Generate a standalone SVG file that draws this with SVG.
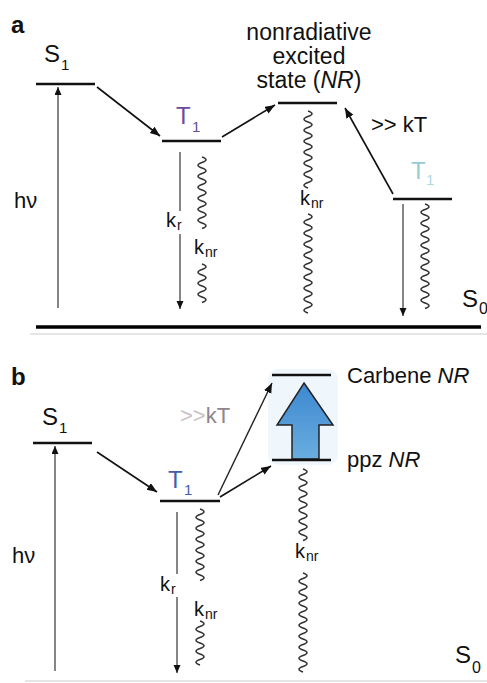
<svg xmlns="http://www.w3.org/2000/svg" width="487" height="683" viewBox="0 0 487 683">
<style>
text{font-family:"Liberation Sans",Arial,sans-serif;fill:#111}
.lvl{stroke:#111;stroke-width:2.6;fill:none}
.gnd{stroke:#000;stroke-width:3.6;fill:none}
.arr{stroke:#111;stroke-width:1.6;fill:none}
.thin{stroke:#222;stroke-width:1.1;fill:none}
.wavy{stroke:#333;stroke-width:1.5;fill:none}
.frame{stroke:#ddd;stroke-width:1.5;fill:none}
.big{font-size:24px}
.sub{font-size:15px}
.lab{font-size:22px}
.k{font-size:20px}
.ks{font-size:14px}
.panel{font-size:24px;font-weight:bold}
</style>
<defs>
<marker id="ah" markerUnits="userSpaceOnUse" markerWidth="12" markerHeight="10" refX="10" refY="4" orient="auto">
<path d="M0,0 L10,4 L0,8 z" fill="#111"/>
</marker>
<marker id="ahs" markerUnits="userSpaceOnUse" markerWidth="10" markerHeight="8" refX="8" refY="3.5" orient="auto">
<path d="M0,0 L8,3.5 L0,7 z" fill="#111"/>
</marker>
<linearGradient id="blue" x1="0" y1="0" x2="0" y2="1">
<stop offset="0" stop-color="#3c88d0"/>
<stop offset="1" stop-color="#6aaedf"/>
</linearGradient>
</defs>

<g id="frames">
<line class="frame" x1="30" y1="334" x2="487" y2="334"/>
<line class="frame" x1="25" y1="681" x2="487" y2="681"/>
</g>

<!-- Panel a -->
<g id="label-a"><text class="panel" x="11" y="33">a</text></g>
<g id="a-S1">
<line class="lvl" x1="36" y1="84" x2="95" y2="84"/>
<text class="big" x="44" y="62">S</text><text class="sub" x="61" y="70">1</text>
</g>
<g id="a-hv"><text class="lab" x="14" y="208">hν</text></g>
<g id="a-T1">
<line class="lvl" x1="162" y1="141" x2="221" y2="141"/>
<text class="big" x="176" y="124" style="fill:#6a4c9c">T</text><text class="sub" x="192" y="132" style="fill:#6a4c9c">1</text>
</g>
<g id="a-NR">
<line class="lvl" x1="278" y1="103" x2="337" y2="103"/>
<text class="lab" x="309" y="40" text-anchor="middle" style="font-size:23px">nonradiative</text>
<text class="lab" x="309" y="64" text-anchor="middle" style="font-size:23px">excited</text>
<text class="lab" x="309" y="88" text-anchor="middle" style="font-size:23px">state (<tspan font-style="italic">NR</tspan>)</text>
</g>
<g id="a-T1p">
<line class="lvl" x1="393" y1="199" x2="452" y2="199"/>
<text class="big" x="411" y="179" style="fill:#88c2cf;opacity:0.85">T</text><text class="sub" x="426" y="185" style="fill:#9fd0dc;opacity:0.8">1</text>
</g>
<g id="a-kT"><text class="lab" x="371" y="132">&gt;&gt; kT</text></g>
<g id="a-S0">
<line class="gnd" x1="36" y1="327" x2="481" y2="327"/>
<text class="big" x="462" y="307">S</text><text class="sub" x="479" y="314" style="font-size:16px">0</text>
</g>
<g id="a-rates">
<text class="k" x="166" y="227">k</text><text class="ks" x="177" y="230">r</text>
<text class="k" x="194" y="254">k</text><text class="ks" x="205" y="257">nr</text>
<text class="k" x="300" y="205">k</text><text class="ks" x="311" y="208">nr</text>
</g>

<!-- Panel b -->
<g id="label-b"><text class="panel" x="11" y="385">b</text></g>
<g id="b-S1">
<line class="lvl" x1="33" y1="443" x2="92" y2="443"/>
<text class="big" x="42" y="425">S</text><text class="sub" x="59" y="433">1</text>
</g>
<g id="b-hv"><text class="lab" x="12" y="563">hν</text></g>
<g id="b-T1">
<line class="lvl" x1="160" y1="501" x2="220" y2="501"/>
<text class="big" x="168" y="488" style="fill:#3f5fae">T</text><text class="sub" x="184" y="495" style="fill:#3f5fae">1</text>
</g>
<g id="b-kT"><text class="lab" x="180" y="423"><tspan style="fill:#cbbfc7">&gt;&gt;</tspan><tspan style="fill:#8f858e">kT</tspan></text></g>
<g id="b-blockarrow">
<rect x="268" y="369" width="70" height="96" rx="10" fill="#eaf4fb" opacity="0.7"/>
<path d="M304,383 L333,425 L319,425 L319,459 L292,459 L292,425 L277,425 Z" fill="url(#blue)" stroke="#222" stroke-width="1.5" stroke-linejoin="miter"/>
</g>
<g id="b-carbene">
<line class="lvl" x1="272" y1="375" x2="331" y2="375"/>
<text class="lab" x="347" y="383">Carbene <tspan font-style="italic">NR</tspan></text>
</g>
<g id="b-ppz">
<line class="lvl" x1="272" y1="460" x2="331" y2="460"/>
<text class="lab" x="347" y="467">ppz <tspan font-style="italic">NR</tspan></text>
</g>
<g id="b-S0"><text class="big" x="455" y="663">S</text><text class="sub" x="472" y="673" style="font-size:16px">0</text></g>
<g id="b-rates">
<text class="k" x="160" y="591">k</text><text class="ks" x="171" y="594">r</text>
<text class="k" x="194" y="616">k</text><text class="ks" x="205" y="619">nr</text>
<text class="k" x="295" y="558">k</text><text class="ks" x="306" y="561">nr</text>
</g>

<g id="connectors">
<!-- panel a -->
<line class="thin" x1="58" y1="308" x2="58" y2="87" marker-end="url(#ahs)"/>
<line class="arr" x1="97" y1="87" x2="160" y2="136" marker-end="url(#ah)"/>
<line class="arr" x1="222" y1="137" x2="275" y2="105" marker-end="url(#ah)"/>
<line class="arr" x1="393" y1="194" x2="345" y2="108" marker-end="url(#ah)"/>
<line class="thin" x1="180" y1="152" x2="180" y2="211"/>
<line class="thin" x1="180" y1="234" x2="180" y2="309" marker-end="url(#ahs)"/>
<line class="thin" x1="403" y1="204" x2="403" y2="316" marker-end="url(#ahs)"/>
<path class="wavy" d="M202,157 q8,2.75 0,5.5 t0,5.5 t0,5.5 t0,5.5 t0,5.5 t0,5.5 t0,5.5 t0,5.5 t0,5.5 t0,5.5 t0,5.5 t0,5.5 t0,5.5"/>
<path class="wavy" d="M202,264 q8,2.75 0,5.5 t0,5.5 t0,5.5 t0,5.5 t0,5.5 t0,5.5 t0,5.5"/>
<path class="wavy" d="M308,111 q8,2.75 0,5.5 t0,5.5 t0,5.5 t0,5.5 t0,5.5 t0,5.5 t0,5.5 t0,5.5 t0,5.5 t0,5.5 t0,5.5 t0,5.5 t0,5.5 t0,5.5"/>
<path class="wavy" d="M308,214 q8,2.75 0,5.5 t0,5.5 t0,5.5 t0,5.5 t0,5.5 t0,5.5 t0,5.5 t0,5.5 t0,5.5 t0,5.5 t0,5.5 t0,5.5 t0,5.5 t0,5.5 t0,5.5 t0,5.5 t0,5.5 t0,5.5"/>
<path class="wavy" d="M425,204 q8,2.75 0,5.5 t0,5.5 t0,5.5 t0,5.5 t0,5.5 t0,5.5 t0,5.5 t0,5.5 t0,5.5 t0,5.5 t0,5.5 t0,5.5 t0,5.5 t0,5.5 t0,5.5 t0,5.5 t0,5.5 t0,5.5 t0,5.5"/>
<!-- panel b -->
<line class="thin" x1="55" y1="671" x2="55" y2="446" marker-end="url(#ahs)"/>
<line class="arr" x1="97" y1="452" x2="157" y2="492" marker-end="url(#ah)"/>
<line class="thin" x1="218" y1="495" x2="272" y2="383" marker-end="url(#ah)" style="stroke-width:1.4"/>
<line class="arr" x1="220" y1="497" x2="271" y2="466" marker-end="url(#ah)"/>
<line class="thin" x1="177" y1="512" x2="177" y2="574"/>
<line class="thin" x1="177" y1="597" x2="177" y2="673" marker-end="url(#ahs)"/>
<path class="wavy" d="M200,509 q8,2.75 0,5.5 t0,5.5 t0,5.5 t0,5.5 t0,5.5 t0,5.5 t0,5.5 t0,5.5 t0,5.5 t0,5.5 t0,5.5 t0,5.5 t0,5.5"/>
<path class="wavy" d="M200,621 q8,2.75 0,5.5 t0,5.5 t0,5.5 t0,5.5 t0,5.5 t0,5.5 t0,5.5 t0,5.5"/>
<path class="wavy" d="M303,469 q8,2.75 0,5.5 t0,5.5 t0,5.5 t0,5.5 t0,5.5 t0,5.5 t0,5.5 t0,5.5 t0,5.5 t0,5.5 t0,5.5 t0,5.5 t0,5.5"/>
<path class="wavy" d="M303,573 q8,2.75 0,5.5 t0,5.5 t0,5.5 t0,5.5 t0,5.5 t0,5.5 t0,5.5 t0,5.5 t0,5.5 t0,5.5 t0,5.5 t0,5.5 t0,5.5 t0,5.5 t0,5.5 t0,5.5 t0,5.5 t0,5.5"/>
</g>
</svg>
